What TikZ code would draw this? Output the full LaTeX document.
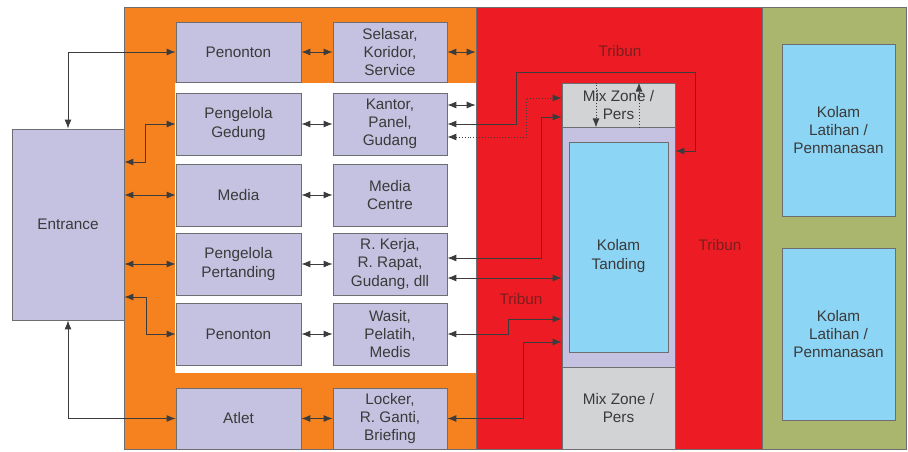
\documentclass[tikz,border=0pt]{standalone}
\usepackage{fontspec}
\setmainfont{Liberation Sans}
\usetikzlibrary{arrows.meta}
\definecolor{zorange}{HTML}{F5821F}
\definecolor{zred}{HTML}{ED1C24}
\definecolor{zgreen}{HTML}{AAB56E}
\definecolor{zlav}{HTML}{C4C2E0}
\definecolor{zblue}{HTML}{8DD5F5}
\definecolor{zgray}{HTML}{D1D3D4}
\definecolor{zborder}{HTML}{6D6E71}
\definecolor{ztxt}{HTML}{3A3A3A}
\definecolor{zline}{HTML}{3C3C3C}
\definecolor{ztrib}{HTML}{7A1E1E}
\begin{document}
\begin{tikzpicture}[x=1pt,y=-1pt,
  >={Latex[length=9pt,width=7pt]},
  zone/.style={draw=zborder, line width=0.6pt, inner sep=0pt},
  room/.style={draw=zborder, line width=0.8pt, fill=zlav, text=ztxt, align=center,
    inner sep=0pt, font=\fontsize{15.3}{18.3}\selectfont},
  pool/.style={room, fill=zblue},
  mix/.style={room, fill=zgray},
  tribtext/.style={text=ztrib, font=\fontsize{15.3}{18.3}\selectfont, inner sep=0pt},
  con/.style={draw=zline, line width=0.9pt}]
\useasboundingbox (0,0) rectangle (908,452);
% zones
\node[zone, fill=zorange, minimum width=352pt, minimum height=442pt] (orangezone) at (300,228) {};
\node[fill=white, inner sep=0pt, minimum width=301pt, minimum height=290pt] (whitezone) at (325.5,228) {};
\node[zone, fill=zred, minimum width=286pt, minimum height=442pt] (tribunzone) at (619,228) {};
\node[zone, fill=zgreen, minimum width=144pt, minimum height=442pt] (greenzone) at (834,228) {};
% entrance
\node[room, minimum width=112pt, minimum height=191pt] (ent) at (68,224.5) {Entrance};
% left column
\node[room, minimum width=125pt, minimum height=60pt] (pen1) at (238.5,52) {Penonton};
\node[room, minimum width=125pt, minimum height=62pt] (peng) at (238.5,124) {Pengelola\\Gedung};
\node[room, minimum width=125pt, minimum height=62pt] (med) at (238.5,195) {Media};
\node[room, minimum width=125pt, minimum height=62pt] (pert) at (238.5,264) {Pengelola\\Pertanding};
\node[room, minimum width=125pt, minimum height=62pt] (pen2) at (238.5,334) {Penonton};
\node[room, minimum width=125pt, minimum height=61pt] (atl) at (238.5,418.5) {Atlet};
% right column
\node[room, minimum width=114pt, minimum height=60pt] (sel) at (390,52) {Selasar,\\Koridor,\\Service};
\node[room, minimum width=114pt, minimum height=62pt] (kan) at (390,124) {Kantor,\\Panel,\\Gudang};
\node[room, minimum width=114pt, minimum height=62pt] (medc) at (390,195) {Media\\Centre};
\node[room, minimum width=114pt, minimum height=62pt] (rk) at (390,264) {R. Kerja,\\R. Rapat,\\Gudang, dll};
\node[room, minimum width=114pt, minimum height=62pt] (was) at (390,334) {Wasit,\\Pelatih,\\Medis};
\node[room, minimum width=114pt, minimum height=61pt] (lock) at (390,418.5) {Locker,\\R. Ganti,\\Briefing};
% competition pool area
\node[mix, minimum width=113pt, minimum height=44pt] (mixtop) at (618.5,105) {Mix Zone /\\Pers};
\node[room, minimum width=113pt, minimum height=240pt] (kolamzone) at (618.5,247) {};
\node[pool, minimum width=99pt, minimum height=210pt] (kolam) at (618.5,247) {};
\node[text=ztxt, align=center, inner sep=0pt, font=\fontsize{15.3}{18.3}\selectfont] (kolamtext) at (618.5,256) {Kolam\\Tanding};
\node[mix, minimum width=113pt, minimum height=82pt] (mixbot) at (618.5,408) {Mix Zone /\\Pers};
% training pools
\node[pool, minimum width=113pt, minimum height=172pt] (lat1) at (838.5,130) {Kolam\\Latihan /\\Penmanasan};
\node[pool, minimum width=113pt, minimum height=172pt] (lat2) at (838.5,334) {Kolam\\Latihan /\\Penmanasan};
% tribun labels
\node[tribtext] (trib1) at (620,51) {Tribun};
\node[tribtext] (trib2) at (521,299) {Tribun};
\node[tribtext] (trib3) at (720,245) {Tribun};
% entrance connectors
\draw[con,<->] (pen1.west) -| (ent.north);
\draw[con,<->] (peng.west) -- ++(-30,0) |- (ent.east |- 0,162);
\draw[con,<->] (ent.east |- med.west) -- (med.west);
\draw[con,<->] (ent.east |- pert.west) -- (pert.west);
\draw[con,<->] (ent.east |- 0,297) -- ++(22,0) |- (pen2.west);
\draw[con,<->] (ent.south) |- (atl.west);
% column connectors
\draw[con,<->] (pen1.east) -- (sel.west);
\draw[con,<->] (peng.east) -- (kan.west);
\draw[con,<->] (med.east) -- (medc.west);
\draw[con,<->] (pert.east) -- (rk.west);
\draw[con,<->] (pen2.east) -- (was.west);
\draw[con,<->] (atl.east) -- (lock.west);
% right connectors
\draw[con,<->] (sel.east) -- (tribunzone.west |- sel.east);
\draw[con,<->] (kan.east |- 0,105) -- (tribunzone.west |- 0,105);
\draw[con,<->] (kan.east) -| (516,72) -| (695,151) -- (kolamzone.east |- 0,151);
\draw[con,dotted,<->] (kan.east |- 0,137) -| (526,98) -- (mixtop.west |- 0,98);
\draw[con,<->] (rk.east |- 0,258) -| (541,117) -- (mixtop.west |- 0,117);
\draw[con,<->] (rk.east |- 0,278) -- (kolamzone.west |- 0,278);
\draw[con,<->] (was.east) -| (508,319) -- (kolamzone.west |- 0,319);
\draw[con,<->] (lock.east) -| (523,342) -- (kolamzone.west |- 0,342);
% mix zone circulation
\draw[con,dotted,->] (mixtop.north -| 596,0) -- (mixtop.south -| 596,0);
\draw[con,dotted,->] (mixtop.south -| 639,0) -- (mixtop.north -| 639,0);
\end{tikzpicture}
\end{document}
